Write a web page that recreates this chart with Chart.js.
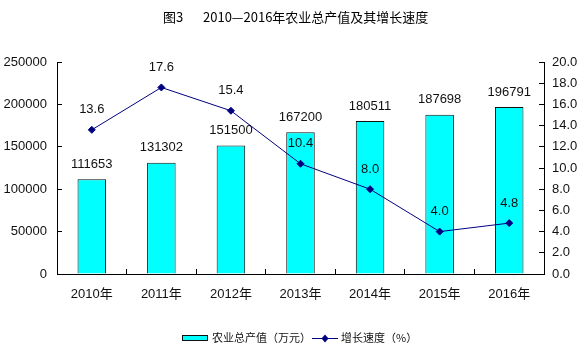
<!DOCTYPE html>
<html><head><meta charset="utf-8">
<script src="https://cdn.jsdelivr.net/npm/chart.js@4.4.1/dist/chart.umd.min.js"></script>
<style>html,body{margin:0;padding:0;background:#fff}#wrap{width:579px;height:357px;position:relative}</style>
</head><body><div id="wrap"><canvas id="c" width="579" height="357"></canvas></div>
<script>
const years = ['2010年', '2011年', '2012年', '2013年', '2014年', '2015年', '2016年'];
const outputValues = [111653, 131302, 151500, 167200, 180511, 187698, 196791];
const growthRates = [13.6, 17.6, 15.4, 10.4, 8.0, 4.0, 4.8];
const leftAxisRange = [0, 250000, 50000];
const rightAxisRange = [0, 20, 2];
const titleNumber = '图3';
const titleText = '2010—2016年农业总产值及其增长速度';
const legendLabels = ['农业总产值（万元）', '增长速度（%）'];

const NUM_FONT = "'Liberation Sans Narrow', 'Arial Narrow', 'Liberation Sans', 'Noto Sans CJK SC', sans-serif";
const CJK_FONT = "'Noto Sans CJK SC', 'Liberation Sans', sans-serif";
const BAR_COLOR = '#00FFFF';
const LINE_COLOR = '#000080';

Chart.defaults.font.family = NUM_FONT;
Chart.defaults.color = '#111';

const overlay = {
  id: 'overlay',
  afterDatasetsDraw(chart) {
    const ctx = chart.ctx;
    ctx.save();
    ctx.fillStyle = '#111';
    ctx.textAlign = 'center';
    ctx.textBaseline = 'middle';
    ctx.font = '13px ' + NUM_FONT;
    const barMeta = chart.getDatasetMeta(1);
    barMeta.data.forEach((el, i) => {
      ctx.fillText(String(outputValues[i]), el.x, el.y - 15);
    });
    const lineMeta = chart.getDatasetMeta(0);
    lineMeta.data.forEach((el, i) => {
      ctx.fillText(growthRates[i].toFixed(1), el.x, el.y - 20);
    });
    ctx.restore();
  },
  afterDraw(chart) {
    const ctx = chart.ctx;
    ctx.save();
    // title
    ctx.fillStyle = '#000';
    ctx.font = '13px ' + CJK_FONT;
    ctx.textAlign = 'left';
    ctx.textBaseline = 'middle';
    ctx.fillText(titleNumber, 163, 17);
    ctx.fillText(titleText, 203, 17);
    // legend
    const ly = 338;
    ctx.fillStyle = BAR_COLOR;
    ctx.fillRect(182.5, ly - 2.5, 25, 5);
    ctx.strokeStyle = '#111';
    ctx.lineWidth = 1;
    ctx.strokeRect(182.5, ly - 2.5, 25, 5);
    ctx.fillStyle = '#111';
    ctx.font = '11px ' + CJK_FONT;
    ctx.fillText(legendLabels[0], 212, ly);
    ctx.strokeStyle = LINE_COLOR;
    ctx.beginPath();
    ctx.moveTo(312, ly + 0.5);
    ctx.lineTo(338, ly + 0.5);
    ctx.stroke();
    ctx.fillStyle = LINE_COLOR;
    ctx.beginPath();
    ctx.moveTo(325, ly - 3.5);
    ctx.lineTo(328.5, ly + 0.5);
    ctx.lineTo(325, ly + 4.5);
    ctx.lineTo(321.5, ly + 0.5);
    ctx.closePath();
    ctx.fill();
    ctx.fillStyle = '#111';
    ctx.fillText(legendLabels[1], 341, ly);
    ctx.restore();
  }
};

new Chart(document.getElementById('c'), {
  type: 'bar',
  data: {
    labels: years,
    datasets: [
      {
        type: 'line',
        label: legendLabels[1],
        data: growthRates,
        yAxisID: 'y1',
        order: 0,
        borderColor: LINE_COLOR,
        borderWidth: 1,
        tension: 0,
        pointStyle: 'rectRot',
        pointRadius: 3.5,
        pointBackgroundColor: LINE_COLOR,
        pointBorderColor: LINE_COLOR,
        pointBorderWidth: 1
      },
      {
        type: 'bar',
        label: legendLabels[0],
        data: outputValues,
        yAxisID: 'y',
        order: 1,
        backgroundColor: BAR_COLOR,
        borderColor: '#111',
        borderWidth: 1,
        barPercentage: 0.41,
        categoryPercentage: 1
      }
    ]
  },
  options: {
    responsive: false,
    devicePixelRatio: 1,
    animation: false,
    layout: { padding: { top: 62, bottom: 53, left: 0, right: 0 } },
    plugins: { legend: { display: false }, title: { display: false }, tooltip: { enabled: false } },
    scales: {
      x: {
        offset: true,
        grid: { offset: true, drawOnChartArea: false, tickLength: -5, color: '#000' },
        border: { color: '#000', width: 1 },
        ticks: { font: { size: 13, family: NUM_FONT }, color: '#111', padding: 18, maxRotation: 0, autoSkip: false },
        afterFit(s) { s.height = 30; }
      },
      y: {
        position: 'left',
        min: leftAxisRange[0], max: leftAxisRange[1],
        grid: { drawOnChartArea: false, tickLength: -5, color: '#000' },
        border: { color: '#000', width: 1 },
        ticks: { stepSize: leftAxisRange[2], font: { size: 13 }, color: '#111', padding: 15, callback: v => String(v) },
        afterFit(s) { s.width = 57; }
      },
      y1: {
        position: 'right',
        min: rightAxisRange[0], max: rightAxisRange[1],
        grid: { drawOnChartArea: false, tickLength: -5, color: '#000' },
        border: { color: '#000', width: 1 },
        ticks: { stepSize: rightAxisRange[2], font: { size: 13 }, color: '#111', padding: 13, callback: v => Number(v).toFixed(1) },
        afterFit(s) { s.width = 35; }
      }
    }
  },
  plugins: [overlay]
});
</script>
</body></html>
